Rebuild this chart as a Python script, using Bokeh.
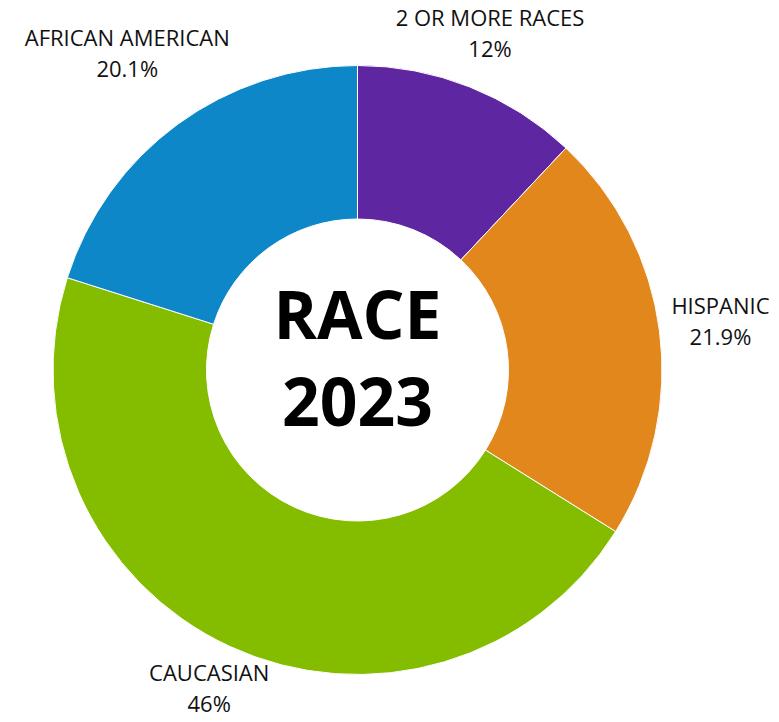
import math
from bokeh.plotting import figure
from bokeh.models import Range1d, ColumnDataSource
from bokeh.core.properties import value
from bokeh.embed import file_html
from bokeh.resources import INLINE

# ---- data ----
categories = ["2 OR MORE RACES", "HISPANIC", "CAUCASIAN", "AFRICAN AMERICAN"]
percents = [12, 21.9, 46, 20.1]
colors = ["#5E26A0", "#E2871C", "#84BC00", "#0D87C8"]
title_lines = ["RACE", "2023"]

# ---- layout constants ----
W, H = 779, 722
CX, CY = 357, 352.5
R_OUT, R_IN = 304.5, 151
LABEL_R = [360, 366, 353, 390]
FONT = "Open Sans"

total = sum(percents)
starts, ends, mids = [], [], []
acc = 0.0
for v in percents:
    a0 = math.pi / 2 - acc / total * 2 * math.pi
    acc += v
    a1 = math.pi / 2 - acc / total * 2 * math.pi
    starts.append(a0)
    ends.append(a1)
    mids.append((a0 + a1) / 2)

p = figure(width=W, height=H, output_backend="svg", toolbar_location=None,
           x_range=Range1d(0, W), y_range=Range1d(0, H), min_border=0)
p.axis.visible = False
p.grid.visible = False
p.outline_line_color = None
p.background_fill_color = "white"
p.border_fill_color = "white"

src = ColumnDataSource(dict(start=starts, end=ends, color=colors))
p.annular_wedge(x=CX, y=CY, inner_radius=R_IN, outer_radius=R_OUT,
                start_angle="start", end_angle="end", direction="clock",
                fill_color="color", line_color="white", line_width=1, source=src)

lx = [CX + r * math.cos(a) for r, a in zip(LABEL_R, mids)]
ly = [CY + r * math.sin(a) for r, a in zip(LABEL_R, mids)]
pct_txt = [f"{v:g}%" for v in percents]
lsrc = ColumnDataSource(dict(x=lx, y1=[y + 18 for y in ly], y2=[y - 13 for y in ly],
                             name=categories, pct=pct_txt))
p.text(x="x", y="y1", text="name", source=lsrc, text_align="center",
       text_baseline="middle", text_font=value(FONT), text_font_size="22px",
       text_color="#111111")
p.text(x="x", y="y2", text="pct", source=lsrc, text_align="center",
       text_baseline="middle", text_font=value(FONT), text_font_size="22px",
       text_color="#111111")

p.text(x=[CX, CX], y=[CY + 57, CY - 32], text=title_lines, text_align="center",
       text_baseline="middle", text_font=value(FONT), text_font_size="66px",
       text_font_style="bold", text_color="#000000")

open("out.html", "w").write(file_html(p, INLINE))
